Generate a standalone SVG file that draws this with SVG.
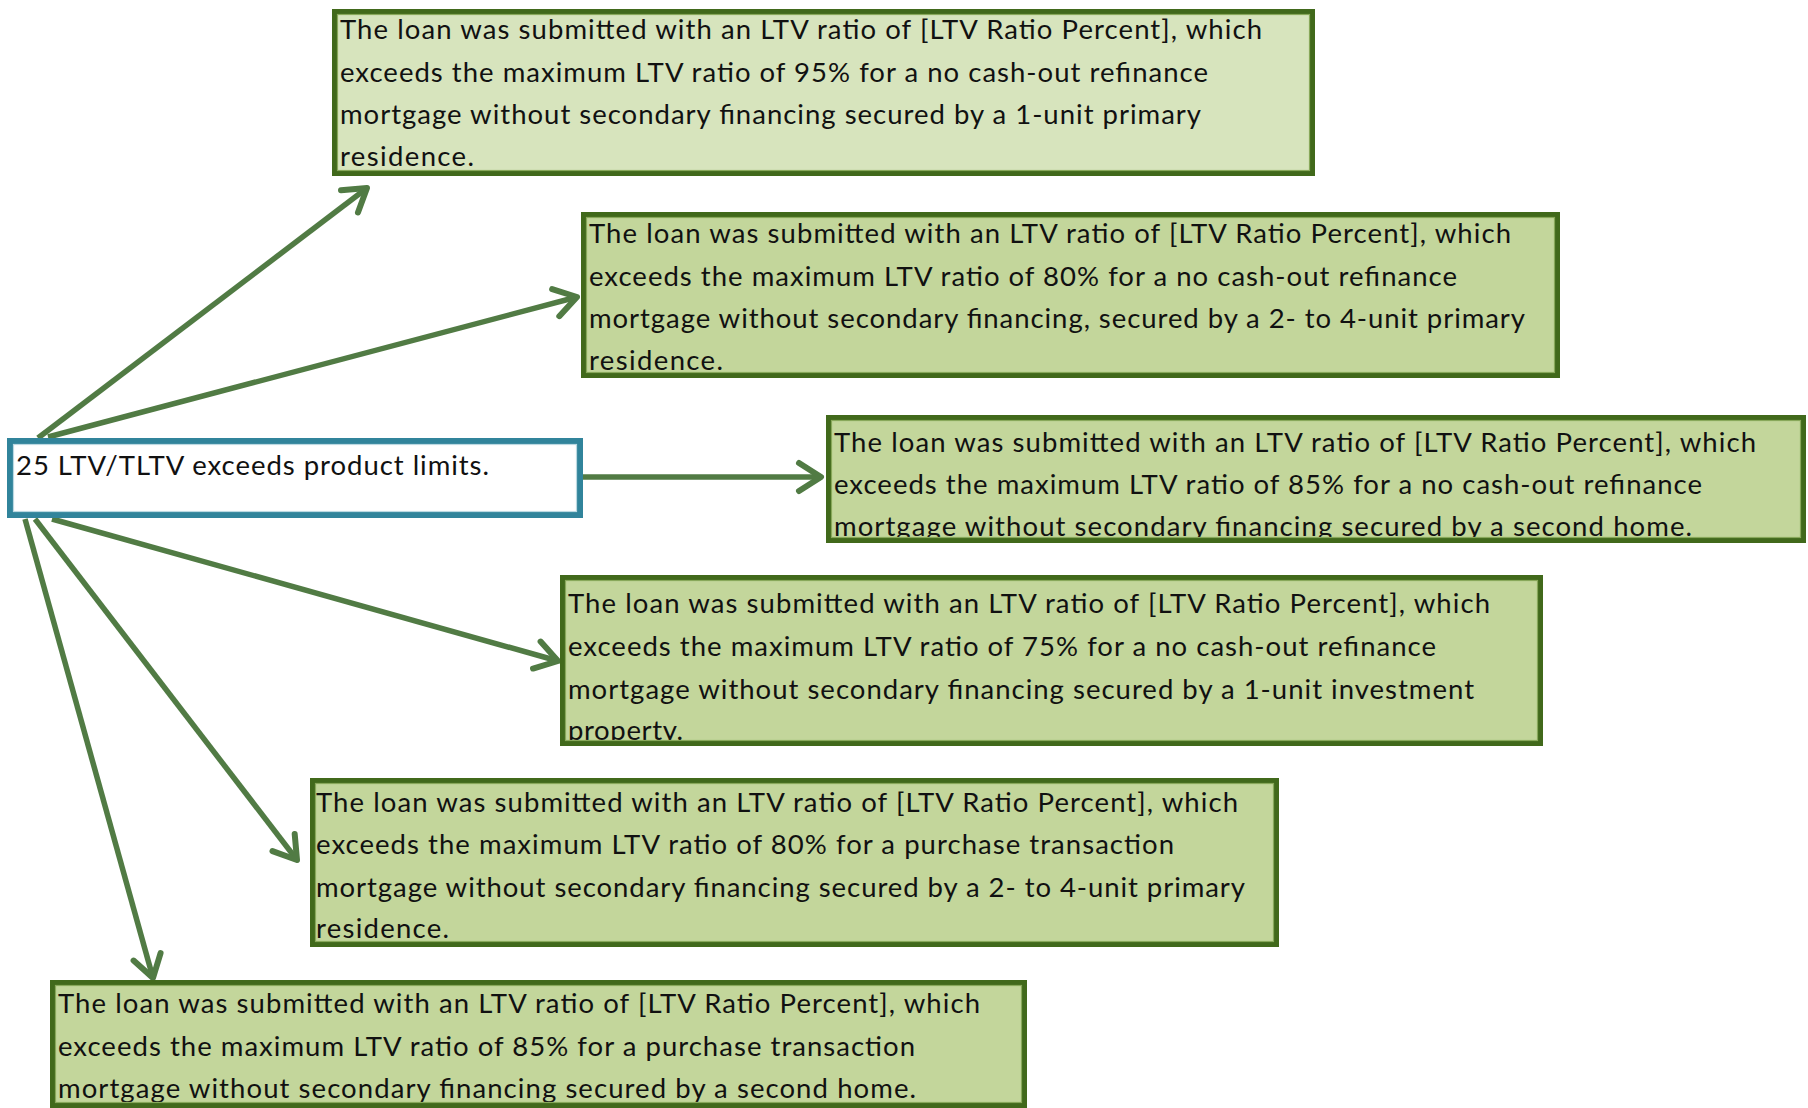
<svg xmlns="http://www.w3.org/2000/svg" width="1808" height="1108" viewBox="0 0 1808 1108">
  <style>
    .box { stroke: #41691b; stroke-width: 5; }
    .inner { fill: none; stroke: #88a85a; stroke-width: 1.2; }
    .light { fill: #d7e4bd; }
    .mid { fill: #c3d69b; }
    .src { fill: #ffffff; stroke: #31849b; stroke-width: 6; }
    .srcinner { fill: none; stroke: #bcd9e2; stroke-width: 1.2; }
    .txt { font-family: Lato, "Open Sans", "Liberation Sans", sans-serif; font-size: 27.5px; fill: #111111; }
    .link { fill: none; stroke: #517b44; stroke-width: 5.5; marker-end: url(#chev); }
  </style>
  <defs>
    <marker id="chev" markerUnits="userSpaceOnUse" orient="auto" refX="0" refY="0" markerWidth="40" markerHeight="40" overflow="visible">
      <path d="M-22,-14 L0,0 L-22,14" fill="none" stroke="#517b44" stroke-width="6" stroke-linecap="round" stroke-linejoin="round"/>
    </marker>
    <clipPath id="c1"><rect x="332" y="9" width="983" height="167"/></clipPath>
    <clipPath id="c2"><rect x="581" y="212" width="979" height="166"/></clipPath>
    <clipPath id="c3"><rect x="826" y="415" width="980" height="128"/></clipPath>
    <clipPath id="c4"><rect x="560" y="575" width="983" height="171"/></clipPath>
    <clipPath id="c5"><rect x="310" y="778" width="969" height="169"/></clipPath>
    <clipPath id="c6"><rect x="50" y="980" width="977" height="128"/></clipPath>
  </defs>

  <rect width="1808" height="1108" fill="#ffffff"/>

  <!-- connectors from the source rule to each limit message -->
  <g id="connectors">
    <line class="link" x1="38" y1="438" x2="367" y2="188"/>
    <line class="link" x1="48" y1="437" x2="577" y2="297"/>
    <line class="link" x1="583" y1="477" x2="821" y2="477"/>
    <line class="link" x1="52" y1="519" x2="558" y2="661"/>
    <line class="link" x1="35" y1="519" x2="297" y2="860"/>
    <line class="link" x1="25" y1="519" x2="153" y2="978"/>
  </g>

  <!-- source rule -->
  <g id="rule-25">
    <rect class="src" x="10" y="441" width="570" height="74"/>
    <rect class="srcinner" x="13.5" y="444.5" width="563" height="67"/>
    <text class="txt" x="16" y="475" textLength="473">25 LTV/TLTV exceeds product limits.</text>
  </g>

  <!-- 95% no cash-out, 1-unit primary -->
  <g id="msg-95-refi">
    <rect class="box light" x="334.5" y="11.5" width="978" height="162"/>
    <g clip-path="url(#c1)" class="txt">
      <text x="340" y="39" textLength="922">The loan was submitted with an LTV ratio of [LTV Ratio Percent], which</text>
      <text x="340" y="82" textLength="868">exceeds the maximum LTV ratio of 95% for a no cash-out refinance</text>
      <text x="340" y="124" textLength="861">mortgage without secondary financing secured by a 1-unit primary</text>
      <text x="340" y="166" textLength="134">residence.</text>
    </g>
    <rect class="inner" x="337.5" y="14.5" width="972" height="156"/>
  </g>

  <!-- 80% no cash-out, 2-4 unit primary -->
  <g id="msg-80-refi">
    <rect class="box mid" x="583.5" y="214.5" width="974" height="161"/>
    <g clip-path="url(#c2)" class="txt">
      <text x="589" y="243" textLength="922">The loan was submitted with an LTV ratio of [LTV Ratio Percent], which</text>
      <text x="589" y="286" textLength="868">exceeds the maximum LTV ratio of 80% for a no cash-out refinance</text>
      <text x="589" y="328" textLength="936">mortgage without secondary financing, secured by a 2- to 4-unit primary</text>
      <text x="589" y="370" textLength="134">residence.</text>
    </g>
    <rect class="inner" x="586.5" y="217.5" width="968" height="155"/>
  </g>

  <!-- 85% no cash-out, second home -->
  <g id="msg-85-refi">
    <rect class="box mid" x="828.5" y="417.5" width="975" height="123"/>
    <g clip-path="url(#c3)" class="txt">
      <text x="834" y="452" textLength="922">The loan was submitted with an LTV ratio of [LTV Ratio Percent], which</text>
      <text x="834" y="494" textLength="868">exceeds the maximum LTV ratio of 85% for a no cash-out refinance</text>
      <text x="834" y="536" textLength="858">mortgage without secondary financing secured by a second home.</text>
    </g>
    <rect class="box" fill="none" x="828.5" y="417.5" width="975" height="123"/>
    <rect class="inner" x="831.5" y="420.5" width="969" height="117"/>
  </g>

  <!-- 75% no cash-out, 1-unit investment -->
  <g id="msg-75-refi">
    <rect class="box mid" x="562.5" y="577.5" width="978" height="166"/>
    <g clip-path="url(#c4)" class="txt">
      <text x="568" y="613" textLength="922">The loan was submitted with an LTV ratio of [LTV Ratio Percent], which</text>
      <text x="568" y="656" textLength="868">exceeds the maximum LTV ratio of 75% for a no cash-out refinance</text>
      <text x="568" y="699" textLength="906">mortgage without secondary financing secured by a 1-unit investment</text>
      <text x="568" y="740" textLength="115">property.</text>
    </g>
    <rect class="box" fill="none" x="562.5" y="577.5" width="978" height="166"/>
    <rect class="inner" x="565.5" y="580.5" width="972" height="160"/>
  </g>

  <!-- 80% purchase, 2-4 unit primary -->
  <g id="msg-80-purchase">
    <rect class="box mid" x="312.5" y="780.5" width="964" height="164"/>
    <g clip-path="url(#c5)" class="txt">
      <text x="316" y="812" textLength="922">The loan was submitted with an LTV ratio of [LTV Ratio Percent], which</text>
      <text x="316" y="854" textLength="858">exceeds the maximum LTV ratio of 80% for a purchase transaction</text>
      <text x="316" y="897" textLength="929">mortgage without secondary financing secured by a 2- to 4-unit primary</text>
      <text x="316" y="938" textLength="133">residence.</text>
    </g>
    <rect class="inner" x="315.5" y="783.5" width="958" height="158"/>
  </g>

  <!-- 85% purchase, second home -->
  <g id="msg-85-purchase">
    <rect class="box mid" x="52.5" y="982.5" width="972" height="123"/>
    <g clip-path="url(#c6)" class="txt">
      <text x="58" y="1013" textLength="922">The loan was submitted with an LTV ratio of [LTV Ratio Percent], which</text>
      <text x="58" y="1056" textLength="857">exceeds the maximum LTV ratio of 85% for a purchase transaction</text>
      <text x="58" y="1098" textLength="858">mortgage without secondary financing secured by a second home.</text>
    </g>
    <rect class="box" fill="none" x="52.5" y="982.5" width="972" height="123"/>
    <rect class="inner" x="55.5" y="985.5" width="966" height="117"/>
  </g>
</svg>
